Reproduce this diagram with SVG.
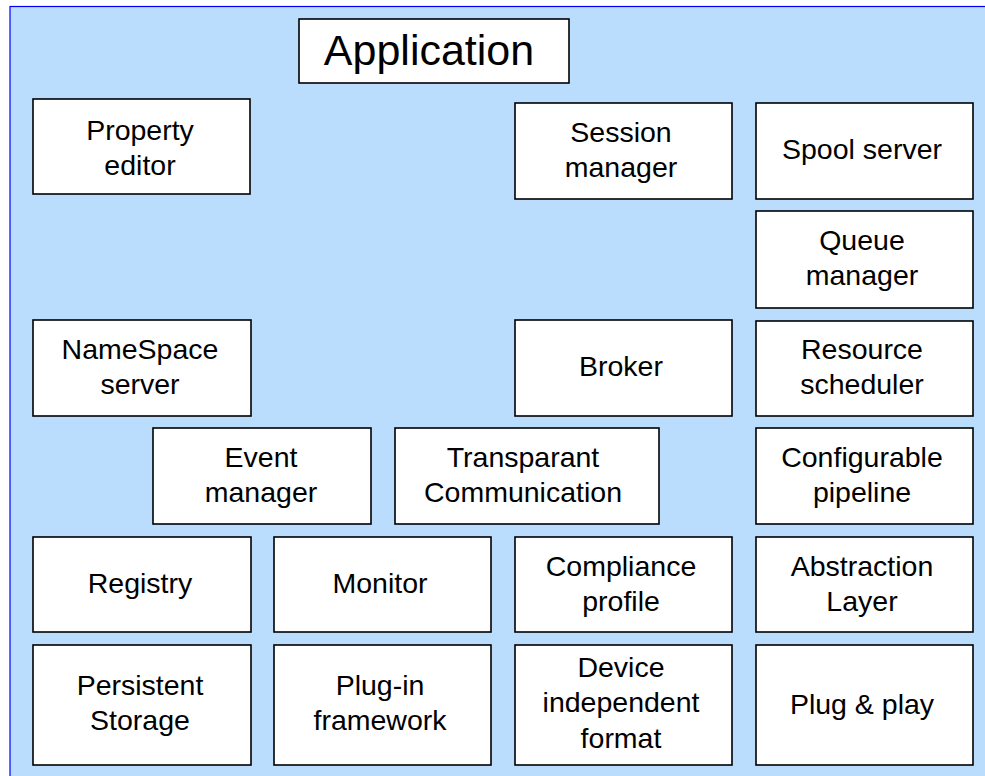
<svg xmlns="http://www.w3.org/2000/svg" width="985" height="776" viewBox="0 0 985 776">
<style>
.bg{fill:#BADCFD;stroke:#0000FF;stroke-width:1.2}
.box{fill:#FFFFFF;stroke:#000000;stroke-width:1.6}
.t{font-family:"Liberation Sans",Arial,sans-serif;font-size:28.5px;fill:#000000;text-anchor:middle}
.app{font-size:43px}
</style>
<rect width="985" height="776" fill="#FFFFFF"/>
<rect class="bg" x="10" y="6.5" width="990" height="790"/>
<g id="application"><rect class="box" x="299" y="19" width="270" height="64"/><text class="t app" x="429" y="65">Application</text></g>
<g id="property-editor"><rect class="box" x="33" y="99" width="217" height="95"/><text class="t" x="140" y="140">Property</text><text class="t" x="140" y="175">editor</text></g>
<g id="session-manager"><rect class="box" x="515" y="103" width="217" height="96"/><text class="t" x="621" y="142">Session</text><text class="t" x="621" y="177">manager</text></g>
<g id="spool-server"><rect class="box" x="756" y="103" width="217" height="96"/><text class="t" x="862" y="159">Spool server</text></g>
<g id="queue-manager"><rect class="box" x="756" y="211" width="217" height="97"/><text class="t" x="862" y="250">Queue</text><text class="t" x="862" y="285">manager</text></g>
<g id="namespace-server"><rect class="box" x="33" y="320" width="218" height="96"/><text class="t" x="140" y="359">NameSpace</text><text class="t" x="140" y="394">server</text></g>
<g id="broker"><rect class="box" x="515" y="320" width="217" height="96"/><text class="t" x="621" y="376">Broker</text></g>
<g id="resource-scheduler"><rect class="box" x="756" y="321" width="217" height="95"/><text class="t" x="862" y="359">Resource</text><text class="t" x="862" y="394">scheduler</text></g>
<g id="event-manager"><rect class="box" x="153" y="428" width="218" height="96"/><text class="t" x="261" y="467">Event</text><text class="t" x="261" y="502">manager</text></g>
<g id="transparant-communication"><rect class="box" x="395" y="428" width="264" height="96"/><text class="t" x="523" y="467">Transparant</text><text class="t" x="523" y="502">Communication</text></g>
<g id="configurable-pipeline"><rect class="box" x="756" y="428" width="217" height="96"/><text class="t" x="862" y="467">Configurable</text><text class="t" x="862" y="502">pipeline</text></g>
<g id="registry"><rect class="box" x="33" y="537" width="218" height="95"/><text class="t" x="140" y="593">Registry</text></g>
<g id="monitor"><rect class="box" x="274" y="537" width="217" height="95"/><text class="t" x="380" y="593">Monitor</text></g>
<g id="compliance-profile"><rect class="box" x="515" y="537" width="217" height="95"/><text class="t" x="621" y="576">Compliance</text><text class="t" x="621" y="611">profile</text></g>
<g id="abstraction-layer"><rect class="box" x="756" y="537" width="217" height="95"/><text class="t" x="862" y="576">Abstraction</text><text class="t" x="862" y="611">Layer</text></g>
<g id="persistent-storage"><rect class="box" x="33" y="645" width="218" height="120"/><text class="t" x="140" y="695">Persistent</text><text class="t" x="140" y="730">Storage</text></g>
<g id="plug-in-framework"><rect class="box" x="274" y="645" width="217" height="120"/><text class="t" x="380" y="695">Plug-in</text><text class="t" x="380" y="730">framework</text></g>
<g id="device-independent-format"><rect class="box" x="515" y="645" width="217" height="120"/><text class="t" x="621" y="677">Device</text><text class="t" x="621" y="712">independent</text><text class="t" x="621" y="748">format</text></g>
<g id="plug-and-play"><rect class="box" x="756" y="645" width="217" height="120"/><text class="t" x="862" y="714">Plug &amp; play</text></g>
<g id="connectors"></g>
</svg>
